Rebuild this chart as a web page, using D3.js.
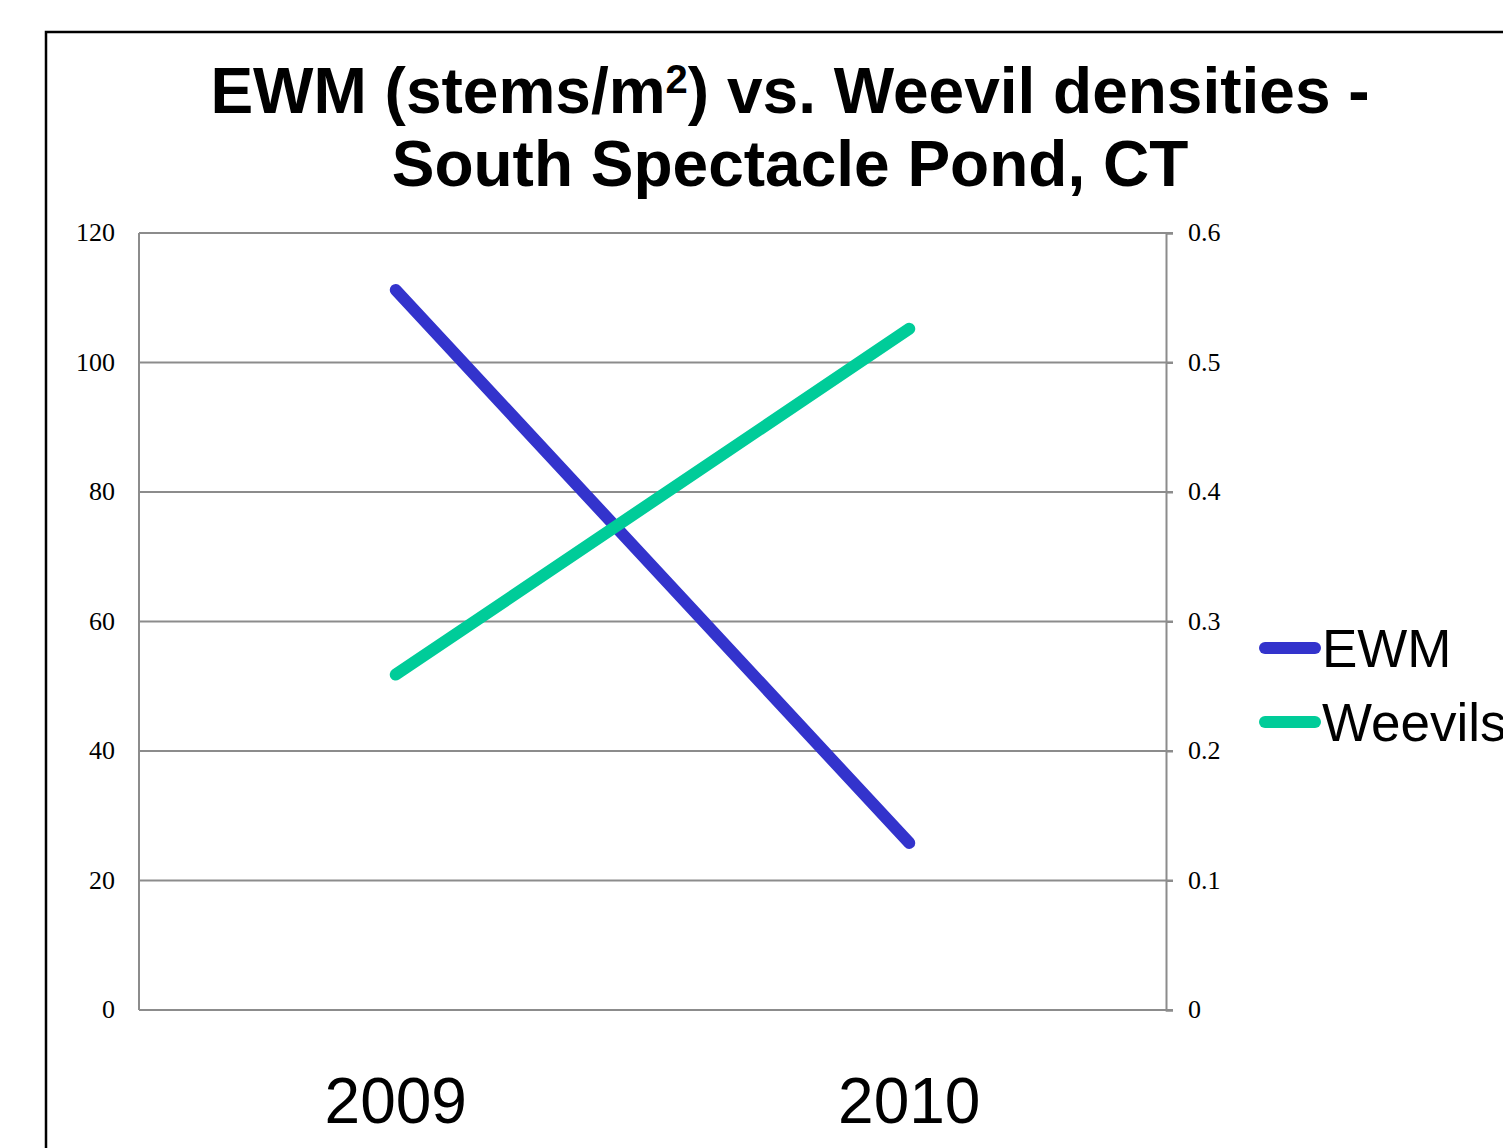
<!DOCTYPE html>
<html><head><meta charset="utf-8">
<script src="https://cdn.jsdelivr.net/npm/d3@7"></script>
<style>html,body{margin:0;padding:0;background:#fff;overflow:hidden}</style>
</head><body>
<svg id="c" width="1503" height="1148"></svg>
<script>
const categories = ["2009", "2010"];
const ewmValues = [111.2, 25.8];
const weevilValues = [0.259, 0.526];
const leftTicks = [0, 20, 40, 60, 80, 100, 120];
const rightTicks = [0, 0.1, 0.2, 0.3, 0.4, 0.5, 0.6];
const seriesNames = ["EWM", "Weevils"];
const seriesColors = ["#3333CC", "#00CC99"];

const svg = d3.select("#c");
const L = 139, R = 1166, T = 233, B = 1010;

// outer frame
svg.append("rect").attr("x", 46).attr("y", 32).attr("width", 1500).attr("height", 1200)
  .attr("fill", "none").attr("stroke", "#000").attr("stroke-width", 2.5);

// title
const title = svg.append("text").attr("text-anchor", "middle")
  .attr("font-family", "Liberation Sans, Arial, sans-serif").attr("font-weight", "bold")
  .attr("font-size", 64).attr("fill", "#000");
const t1 = title.append("tspan").attr("x", 790).attr("y", 113);
t1.append("tspan").text("EWM (stems/m");
t1.append("tspan").attr("font-size", 40).attr("dy", -20).text("2");
t1.append("tspan").attr("dy", 20).text(") vs. Weevil densities -");
title.append("tspan").attr("x", 790).attr("y", 186).text("South Spectacle Pond, CT");

const x = d3.scaleBand().domain(categories).range([L, R]);
const yL = d3.scaleLinear().domain([0, 120]).range([B, T]);
const yR = d3.scaleLinear().domain([0, 0.6]).range([B, T]);

// gridlines
svg.append("g").selectAll("line").data(leftTicks).join("line")
  .attr("x1", L).attr("x2", R + 7)
  .attr("y1", d => yL(d)).attr("y2", d => yL(d))
  .attr("stroke", "#8c8c8c").attr("stroke-width", 2);

// left axis line
svg.append("line").attr("x1", L).attr("x2", L).attr("y1", T).attr("y2", B)
  .attr("stroke", "#8c8c8c").attr("stroke-width", 2);

// right axis
const ra = svg.append("g").attr("transform", `translate(${R},0)`)
  .call(d3.axisRight(yR).tickValues(rightTicks).tickSize(7).tickPadding(15)
    .tickFormat(d => d === 0 ? "0" : d3.format(".1f")(d)));
ra.select(".domain").attr("stroke", "#8c8c8c").attr("stroke-width", 2);
ra.selectAll(".tick line").attr("stroke", "#8c8c8c").attr("stroke-width", 2);
ra.selectAll("text").attr("font-family", "Liberation Serif, Times New Roman, serif")
  .attr("font-size", 26).attr("fill", "#000").attr("dy", "0.3em");

// left axis labels
const la = svg.append("g").attr("transform", `translate(${L},0)`)
  .call(d3.axisLeft(yL).tickValues(leftTicks).tickSize(0).tickPadding(24));
la.select(".domain").remove();
la.selectAll("text").attr("font-family", "Liberation Serif, Times New Roman, serif")
  .attr("font-size", 26).attr("fill", "#000").attr("dy", "0.3em");

// x labels
const xa = svg.append("g").attr("transform", `translate(0,${B})`)
  .call(d3.axisBottom(x).tickSize(0).tickPadding(75));
xa.select(".domain").remove();
xa.selectAll("text").attr("font-family", "Liberation Sans, Arial, sans-serif")
  .attr("font-size", 64).attr("fill", "#000").attr("dy", "0.6em");

const cx = d => x(d) + x.bandwidth() / 2;

// lines
const ewmLine = d3.line().x((d, i) => cx(categories[i])).y(d => yL(d));
const wLine = d3.line().x((d, i) => cx(categories[i])).y(d => yR(d));
svg.append("path").attr("d", ewmLine(ewmValues)).attr("fill", "none")
  .attr("stroke", seriesColors[0]).attr("stroke-width", 12).attr("stroke-linecap", "round");
svg.append("path").attr("d", wLine(weevilValues)).attr("fill", "none")
  .attr("stroke", seriesColors[1]).attr("stroke-width", 12).attr("stroke-linecap", "round");

// legend
const lg = svg.append("g");
seriesNames.forEach((n, i) => {
  const yy = 648 + i * 74;
  lg.append("line").attr("x1", 1265).attr("x2", 1315).attr("y1", yy).attr("y2", yy)
    .attr("stroke", seriesColors[i]).attr("stroke-width", 12).attr("stroke-linecap", "round");
  lg.append("text").attr("x", 1322).attr("y", yy + 19).text(n)
    .attr("font-family", "Liberation Sans, Arial, sans-serif").attr("font-size", 53).attr("fill", "#000");
});
</script>
</body></html>
